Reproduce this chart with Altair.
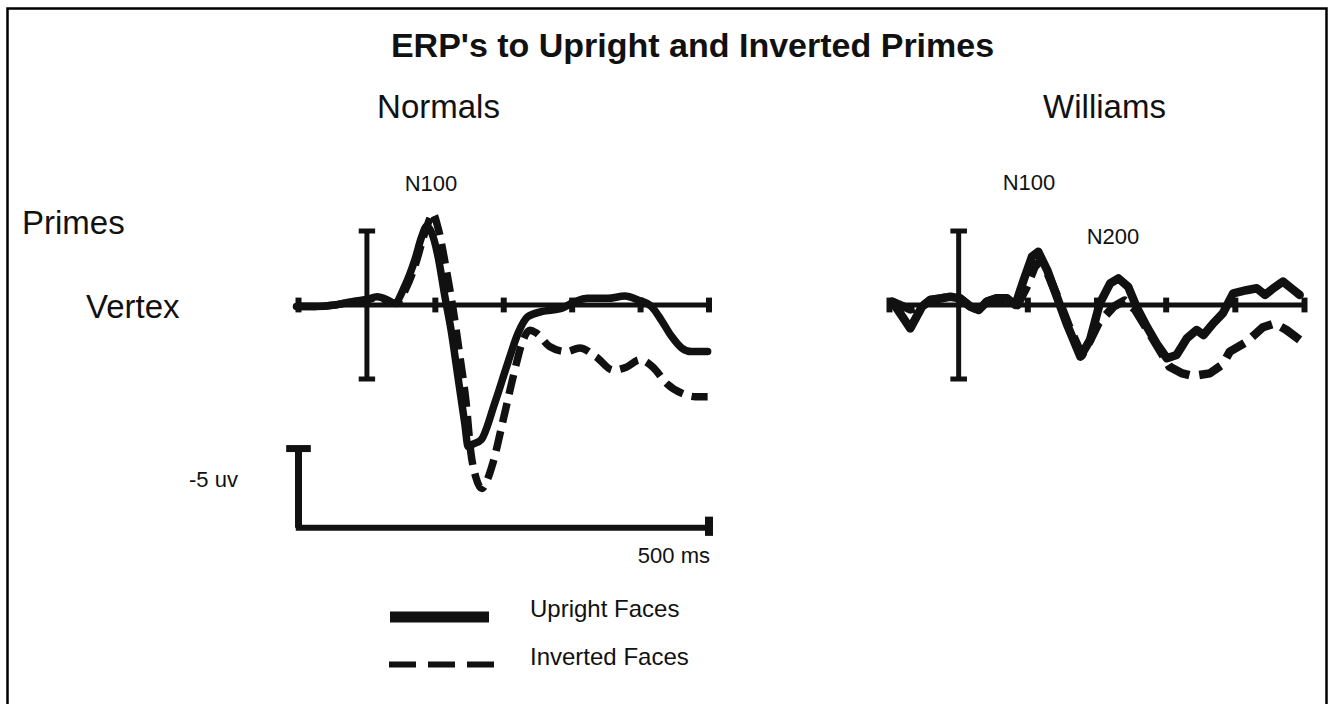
import altair as alt
import pandas as pd

# ---------------- data (time in ms, amplitude in microvolts, negative plotted up) ----------------
# Normals, upright faces (solid)
t_norm_up = [-103, -75, -47, -22, 0, 15, 30, 40, 55, 70, 80, 87, 94, 104, 114, 123, 133, 143,
             148, 155, 167, 187, 206, 221, 235, 255, 284, 304, 323, 352, 377, 396, 416, 430,
             445, 460, 474, 498]
v_norm_up = [0.1, 0.1, 0.0, -0.23, -0.38, -0.56, -0.34, -0.11, -1.24, -3.04, -4.6, -5.3, -4.95,
             -3.27, -0.56, 1.69, 4.84, 8.0, 9.57, 9.4, 9.1, 6.6, 3.9, 1.9, 0.8, 0.45, 0.23, -0.23,
             -0.45, -0.45, -0.6, -0.34, 0.11, 1.0, 2.1, 2.9, 3.15, 3.15]
# Normals, inverted faces (dashed)
t_norm_inv = [-103, -75, -47, -22, 0, 15, 30, 42, 57, 72, 82, 90, 96, 104, 116, 126, 136, 145,
              152, 159, 168, 176, 184, 199, 214, 228, 238, 248, 267, 292, 311, 335, 360, 379,
              399, 418, 438, 462, 480, 498]
v_norm_inv = [0.1, 0.1, 0.0, -0.2, -0.35, -0.5, -0.3, -0.1, -1.1, -2.9, -4.5, -5.6, -6.2, -5.2,
              -2.4, 0.3, 3.5, 6.6, 10.0, 11.6, 12.4, 11.8, 10.7, 7.8, 4.8, 2.4, 1.7, 1.9, 2.8,
              3.15, 2.9, 3.5, 4.4, 4.2, 3.7, 4.2, 5.3, 6.0, 6.2, 6.2]
# Williams, upright faces (solid)
t_will_up = [-96, -70, -53, -41, -26, -12, 2, 17, 29, 41, 55, 70, 82, 94, 106, 115, 128, 142,
             156, 176, 190, 204, 219, 231, 245, 257, 272, 286, 301, 315, 330, 344, 354, 368,
             382, 397, 416, 431, 443, 455, 469, 481, 493]
v_will_up = [-0.23, 1.58, 0.11, -0.34, -0.45, -0.56, -0.45, 0.11, 0.34, -0.23, -0.45, -0.45,
             0.0, -1.69, -3.27, -3.6, -2.36, -0.56, 1.24, 3.49, 2.36, -0.11, -1.46, -1.8, -1.24,
             0.11, 1.46, 2.59, 3.6, 3.38, 2.25, 1.69, 2.03, 1.24, 0.56, -0.79, -1.0, -1.13,
             -0.68, -1.13, -1.58, -1.13, -0.68]
# Williams, inverted faces (dashed)
t_will_inv = [-96, -70, -53, -41, -26, -12, 2, 17, 29, 41, 55, 70, 85, 98, 110, 118, 130, 145,
              160, 178, 190, 202, 224, 240, 255, 272, 290, 305, 322, 339, 363, 382, 392, 416,
              440, 457, 474, 493]
v_will_inv = [-0.23, 0.3, 0.1, -0.34, -0.45, -0.56, -0.45, 0.11, 0.34, -0.23, -0.45, -0.3, 0.0,
              -1.2, -2.6, -3.0, -2.0, -0.3, 1.5, 3.4, 2.4, 1.24, 0.11, -0.3, 0.3, 1.6, 3.0, 4.17,
              4.6, 4.8, 4.62, 4.0, 3.15, 2.5, 1.5, 1.24, 1.69, 2.36]

# axis furniture in data units
time_span = [-100, 500]
time_ticks = [-100, 100, 200, 300, 400, 500]
onset_bar = [-5, 5]          # microvolts
scale_bar_uv = [9.7, 15.05]  # the "-5 uv" calibration bar
scale_bar_ms = [-104, 500]   # the "500 ms" calibration bar

FONT = "Liberation Sans"
INK = "#111111"


def scales(x0, x1):
    xs = alt.Scale(domain=time_span, range=[x0, x1], nice=False, zero=False)
    ys = alt.Scale(domain=onset_bar, range=[231, 379], nice=False, zero=False)
    return xs, ys


one = pd.DataFrame({"k": [0]})


def panel(xs, ys, series, with_scale_bar=False):
    layers = []
    # baseline
    base = pd.DataFrame({"a": [time_span[0]], "b": [time_span[1]], "v": [0]})
    layers.append(alt.Chart(base).mark_rule(color=INK, strokeWidth=5).encode(
        x=alt.X("a:Q", scale=xs, axis=None), x2="b:Q", y=alt.Y("v:Q", scale=ys, axis=None)))
    # ticks
    tk = pd.DataFrame({"t": time_ticks, "lo": [-0.5] * len(time_ticks), "hi": [0.5] * len(time_ticks)})
    layers.append(alt.Chart(tk).mark_rule(color=INK, strokeWidth=6).encode(
        x=alt.X("t:Q", scale=xs, axis=None), y=alt.Y("lo:Q", scale=ys, axis=None), y2="hi:Q"))
    # onset bar with caps
    ob = pd.DataFrame({"t": [0], "lo": [onset_bar[0]], "hi": [onset_bar[1]]})
    layers.append(alt.Chart(ob).mark_rule(color=INK, strokeWidth=5).encode(
        x=alt.X("t:Q", scale=xs, axis=None), y=alt.Y("lo:Q", scale=ys, axis=None), y2="hi:Q"))
    caps = pd.DataFrame({"a": [-12, -12], "b": [12, 12], "v": onset_bar})
    layers.append(alt.Chart(caps).mark_rule(color=INK, strokeWidth=5).encode(
        x=alt.X("a:Q", scale=xs, axis=None), x2="b:Q", y=alt.Y("v:Q", scale=ys, axis=None)))
    if with_scale_bar:
        sv = pd.DataFrame({"t": [-100], "lo": [scale_bar_uv[0]], "hi": [scale_bar_uv[1]]})
        layers.append(alt.Chart(sv).mark_rule(color=INK, strokeWidth=7).encode(
            x=alt.X("t:Q", scale=xs, axis=None), y=alt.Y("lo:Q", scale=ys, axis=None), y2="hi:Q"))
        sc = pd.DataFrame({"a": [-118], "b": [-82], "v": [scale_bar_uv[0]]})
        layers.append(alt.Chart(sc).mark_rule(color=INK, strokeWidth=7).encode(
            x=alt.X("a:Q", scale=xs, axis=None), x2="b:Q", y=alt.Y("v:Q", scale=ys, axis=None)))
        sh = pd.DataFrame({"a": [scale_bar_ms[0]], "b": [scale_bar_ms[1]], "v": [scale_bar_uv[1]]})
        layers.append(alt.Chart(sh).mark_rule(color=INK, strokeWidth=6).encode(
            x=alt.X("a:Q", scale=xs, axis=None), x2="b:Q", y=alt.Y("v:Q", scale=ys, axis=None)))
        se = pd.DataFrame({"t": [500], "lo": [14.3], "hi": [15.6]})
        layers.append(alt.Chart(se).mark_rule(color=INK, strokeWidth=8).encode(
            x=alt.X("t:Q", scale=xs, axis=None), y=alt.Y("lo:Q", scale=ys, axis=None), y2="hi:Q"))
    for (t, v, dash, width, interp) in series:
        df = pd.DataFrame({"t": t, "v": v})
        kw = dict(color=INK, strokeWidth=width, interpolate=interp, strokeJoin="round")
        if dash:
            kw["strokeDash"] = dash
            kw["strokeCap"] = "butt"
        else:
            kw["strokeCap"] = "round"
        layers.append(alt.Chart(df).mark_line(**kw).encode(
            x=alt.X("t:Q", scale=xs, axis=None), y=alt.Y("v:Q", scale=ys, axis=None)))
    return layers


xs_n, ys_n = scales(298.5, 709)
xs_w, ys_w = scales(889.5, 1304.5)

layers = []
layers += panel(xs_n, ys_n, [
    (t_norm_inv, v_norm_inv, [20, 9], 7.5, "monotone"),
    (t_norm_up, v_norm_up, None, 7.5, "monotone"),
], with_scale_bar=True)
layers += panel(xs_w, ys_w, [
    (t_will_inv, v_will_inv, [24, 10], 8.5, "linear"),
    (t_will_up, v_will_up, None, 8.5, "linear"),
])


def txt(s, x, y, size, align="left", bold=False):
    return alt.Chart(one).mark_text(
        text=s, align=align, baseline="alphabetic", font=FONT, fontSize=size,
        fontWeight="bold" if bold else "normal", color=INK,
    ).encode(x=alt.value(x), y=alt.value(y))


# frame
layers.insert(0, alt.Chart(one).mark_rect(fill="white", stroke="black", strokeWidth=2.5).encode(
    x=alt.value(7.5), x2=alt.value(1326.5), y=alt.value(8.5), y2=alt.value(720)))

# legend swatches
layers.append(alt.Chart(one).mark_rule(color=INK, strokeWidth=11).encode(
    x=alt.value(390), x2=alt.value(489), y=alt.value(617)))
layers.append(alt.Chart(one).mark_rule(color=INK, strokeWidth=6, strokeDash=[27, 12]).encode(
    x=alt.value(389), x2=alt.value(494), y=alt.value(664.5)))

layers += [
    txt("ERP's to Upright and Inverted Primes", 692.5, 57, 34, "center", True),
    txt("Normals", 438.5, 118, 33, "center"),
    txt("Williams", 1104.5, 118, 33, "center"),
    txt("Primes", 22, 234, 33),
    txt("Vertex", 86, 318, 33),
    txt("N100", 431, 191, 22, "center"),
    txt("N100", 1029, 190, 22, "center"),
    txt("N200", 1113, 244, 22, "center"),
    txt("-5 uv", 189, 487, 22),
    txt("500 ms", 710, 563, 22, "right"),
    txt("Upright Faces", 530, 617, 24),
    txt("Inverted Faces", 530, 665, 24),
]

chart = alt.layer(*layers).resolve_scale(x="independent", y="independent").properties(
    width=1328, height=704, autosize=alt.AutoSizeParams(type="none"), padding=0,
    background="white",
).configure_view(stroke=None)

chart.save("out.html", embed_options={"renderer": "svg", "actions": False})
